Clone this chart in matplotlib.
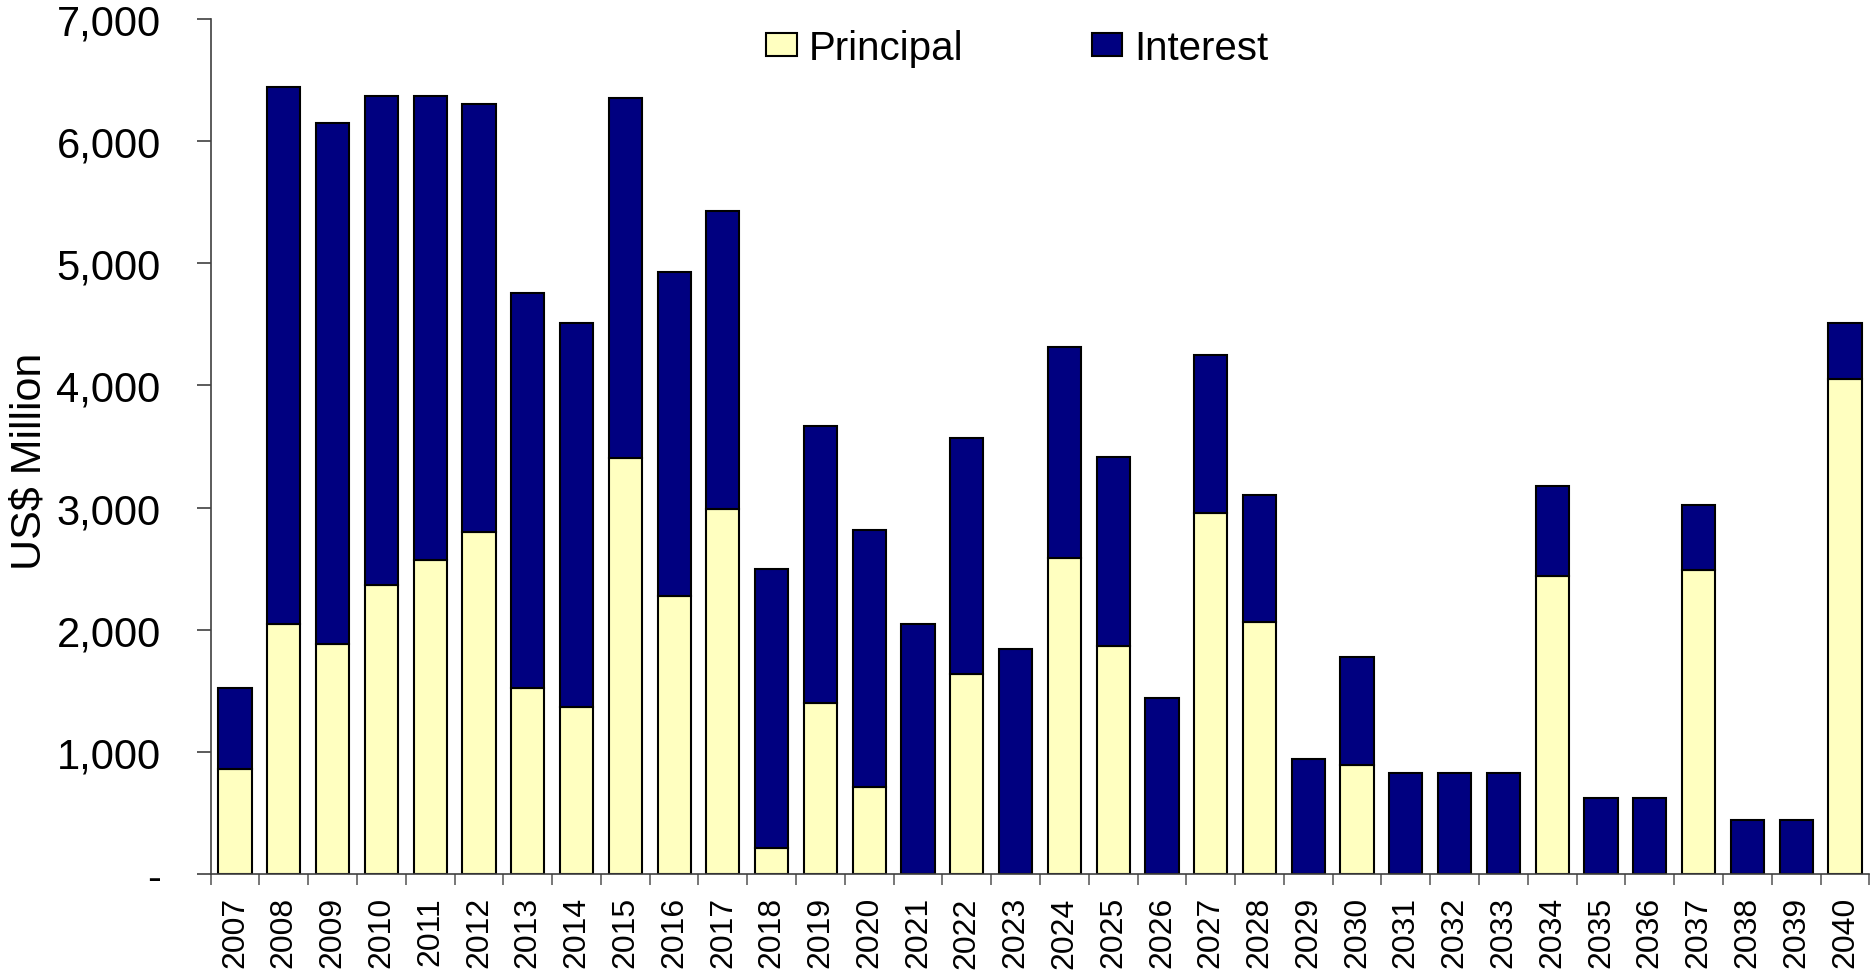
import numpy as np
import matplotlib
matplotlib.use("Agg")
import matplotlib.pyplot as plt
from matplotlib.ticker import FixedLocator, FuncFormatter

# Debt service schedule, US$ million.
years = [str(y) for y in range(2007, 2041)]
principal = [860, 2050, 1885, 2365, 2570, 2800, 1520, 1365, 3405, 2280,
             2990, 215, 1400, 710, 0, 1635, 0, 2590, 1865, 0,
             2955, 2060, 0, 895, 0, 0, 0, 2440, 0, 0,
             2490, 0, 0, 4050]
total = [1520, 6440, 6150, 6370, 6370, 6300, 4755, 4510, 6355, 4925,
         5430, 2495, 3665, 2815, 2050, 3570, 1845, 4315, 3415, 1445,
         4245, 3105, 940, 1780, 828, 828, 828, 3175, 625, 625,
         3025, 445, 445, 4510]
interest = [t - p for t, p in zip(total, principal)]

principal_color = "#FFFFC0"
interest_color = "#000080"

plt.rcParams["font.family"] = ["Liberation Sans", "DejaVu Sans"]

# Create figure.
fig = plt.figure(figsize=(18.74, 9.78), dpi=100)
ax = fig.add_axes([0.1124, 0.1053, 0.8851, 0.8743])

x = np.arange(len(years))
ax.bar(x, principal, width=0.68, color=principal_color, edgecolor="black",
       linewidth=1.5, label="Principal", zorder=2)
ax.bar(x, interest, width=0.68, bottom=principal, color=interest_color,
       edgecolor="black", linewidth=1.5, label="Interest", zorder=2)

# Axes limits and spines.
ax.set_xlim(-0.5, len(years) - 0.5)
ax.set_ylim(0, 7000)
for side in ["top", "right"]:
    ax.spines[side].set_visible(False)
for side in ["left", "bottom"]:
    ax.spines[side].set_color("#404040")
    ax.spines[side].set_linewidth(1.2)

# y axis: thousands separators, zero shown as a dash.
ax.yaxis.set_major_locator(FixedLocator(np.arange(0, 7001, 1000)))
ax.yaxis.set_major_formatter(
    FuncFormatter(lambda v, _: "-" if v == 0 else f"{int(v):,}"))
ax.tick_params(axis="y", length=10, width=1.2, color="#404040",
               labelsize=30, pad=26)
ax.set_ylabel("US$ Million", fontsize=31)
ax.yaxis.set_label_coords(-0.097, 0.484)

# x axis: tick marks between categories, labels centred on bars.
ax.xaxis.set_major_locator(FixedLocator(np.arange(-0.5, len(years), 1.0)))
ax.xaxis.set_major_formatter(FuncFormatter(lambda v, _: ""))
ax.set_xticks(x, labels=years, minor=True)
ax.tick_params(axis="x", which="major", length=8, width=1.2, color="#606060")
ax.tick_params(axis="x", which="minor", length=0, pad=16)
for lbl in ax.get_xticklabels(minor=True):
    lbl.set_rotation(90)
    lbl.set_fontsize(23)
    lbl.set_family(["Liberation Sans Narrow", "Liberation Sans"])

# Legend across the top.
ax.legend(loc="center", bbox_to_anchor=(0.4865, 0.966), ncol=2,
          frameon=False, fontsize=29, columnspacing=3.2, handlelength=0.75,
          handleheight=0.5, handletextpad=0.3)

# Save plot to file.
fig.savefig("out.png", dpi=100)
plt.close(fig)
